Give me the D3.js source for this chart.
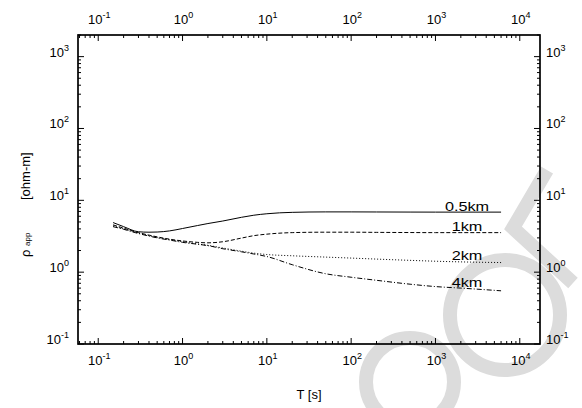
<!DOCTYPE html>
<html>
<head>
<meta charset="utf-8">
<script src="https://cdn.jsdelivr.net/npm/d3@7"></script>
<style>
  body { margin: 0; background: #fff; }
  text { font-family: "Liberation Sans", Arial, sans-serif; }
</style>
</head>
<body>
<div id="chart"></div>
<script>
// apparent resistivity vs period, four depths
var period = [0.15, 0.2, 0.3, 0.4, 0.5, 0.7, 1, 1.5, 2, 3, 5, 7, 10, 20, 50, 100, 200, 500, 1000, 2000, 6000];
var rho05 = [4.9, 4.3, 3.65, 3.6, 3.62, 3.75, 4.05, 4.45, 4.75, 5.15, 5.8, 6.2, 6.5, 6.8, 6.9, 6.9, 6.88, 6.86, 6.85, 6.85, 6.85];
var rho1  = [4.55, 4.1, 3.55, 3.28, 3.1, 2.88, 2.72, 2.6, 2.56, 2.65, 2.98, 3.22, 3.38, 3.55, 3.6, 3.6, 3.58, 3.56, 3.55, 3.55, 3.55];
var rho2  = [4.4, 4.0, 3.5, 3.22, 3.03, 2.83, 2.65, 2.47, 2.36, 2.17, 1.96, 1.84, 1.76, 1.69, 1.62, 1.57, 1.52, 1.46, 1.42, 1.39, 1.36];
var rho4  = [4.3, 3.95, 3.45, 3.18, 3.0, 2.8, 2.6, 2.45, 2.34, 2.12, 1.92, 1.79, 1.65, 1.27, 0.95, 0.85, 0.77, 0.68, 0.63, 0.6, 0.55];
var seriesNames = ['0.5km', '1km', '2km', '4km'];
var dashes = ['none', '4,2', '1,2', '5,2,1,2'];
var xMajor = [0.1, 1, 10, 100, 1000, 10000];
var yMajor = [0.1, 1, 10, 100, 1000];

var w = 582, h = 408;
var margin = {top: 35, right: 42, bottom: 64, left: 78};

var x = d3.scaleLog()
  .domain([Math.pow(10, -1.24), Math.pow(10, 4.24)])
  .range([margin.left, w - margin.right]);
var y = d3.scaleLog()
  .domain([0.1, 2000])
  .range([h - margin.bottom, margin.top]);

var svg = d3.select('#chart').append('svg')
  .attr('width', w)
  .attr('height', h);

// faint watermark
var wm = svg.append('g')
  .attr('fill', 'none')
  .attr('stroke', '#dcdcdc')
  .attr('stroke-width', 14);
wm.append('circle').attr('cx', 410).attr('cy', 382).attr('r', 44);
wm.append('circle').attr('cx', 505).attr('cy', 315).attr('r', 55);
wm.append('path').attr('d', 'M547,170L513,228L573,283');

var x0 = margin.left, x1 = w - margin.right;
var y0 = h - margin.bottom, y1 = margin.top;

var xMinor = x.ticks().filter(d => xMajor.indexOf(d) < 0);
var yMinor = y.ticks().filter(d => yMajor.indexOf(d) < 0);

var ticks = svg.append('g').attr('stroke', '#000').attr('stroke-width', 1);
function tickLines(vals, len) {
  vals.forEach(function(d) {
    var px = x(d);
    if (px >= x0 && px <= x1) {
      ticks.append('line').attr('x1', px).attr('x2', px).attr('y1', y0).attr('y2', y0 - len);
      ticks.append('line').attr('x1', px).attr('x2', px).attr('y1', y1).attr('y2', y1 + len);
    }
  });
}
function tickLinesY(vals, len) {
  vals.forEach(function(d) {
    var py = y(d);
    if (py >= y1 && py <= y0) {
      ticks.append('line').attr('y1', py).attr('y2', py).attr('x1', x0).attr('x2', x0 + len);
      ticks.append('line').attr('y1', py).attr('y2', py).attr('x1', x1).attr('x2', x1 - len);
    }
  });
}
tickLines(xMinor, 3);
tickLines(xMajor, 6);
tickLinesY(yMinor, 3);
tickLinesY(yMajor, 6);

svg.append('rect')
  .attr('x', x0).attr('y', y1)
  .attr('width', x1 - x0).attr('height', y0 - y1)
  .attr('fill', 'none')
  .attr('stroke', '#000')
  .attr('stroke-width', 1.7);

function powLabel(g, d, anchor) {
  var e = Math.round(Math.log10(d));
  var t = g.append('text').attr('font-size', 13).attr('text-anchor', anchor).attr('fill', '#000');
  t.append('tspan').text('10');
  t.append('tspan').attr('font-size', 9).attr('dy', -6).text(e);
  return t;
}

xMajor.forEach(function(d) {
  powLabel(svg, d, 'middle').attr('x', x(d) + 1).attr('y', 24);
  powLabel(svg, d, 'middle').attr('x', x(d) + 1).attr('y', 365);
});
yMajor.forEach(function(d) {
  powLabel(svg, d, 'end').attr('x', 69).attr('y', y(d));
  powLabel(svg, d, 'start').attr('x', 546).attr('y', y(d));
});

svg.append('text')
  .attr('x', (x0 + x1) / 2)
  .attr('y', 399)
  .attr('text-anchor', 'middle')
  .attr('font-size', 13)
  .text('T [s]');

// y title: rho_app ... [ohm-m], reading bottom to top
var yt = svg.append('text')
  .attr('transform', 'translate(30,257) rotate(-90)')
  .attr('font-size', 13);
yt.append('tspan').attr('x', 0).text('\u03c1');
yt.append('tspan').attr('x', 11).attr('font-size', 8).text('app');
yt.append('tspan').attr('x', 57).text('[ohm-m]');

var allRho = [rho05, rho1, rho2, rho4];
var line = d3.line()
  .x(d => x(d[0]))
  .y(d => y(d[1]))
  .curve(d3.curveMonotoneX);

allRho.forEach(function(vals, i) {
  var pts = period.map((p, j) => [p, vals[j]]);
  svg.append('path')
    .attr('d', line(pts))
    .attr('fill', 'none')
    .attr('stroke', '#000')
    .attr('stroke-width', 1)
    .attr('stroke-dasharray', dashes[i]);
  svg.append('text')
    .attr('transform', 'translate(467,' + (y(vals[vals.length - 2]) - 1.5) + ') scale(1.25,1)')
    .attr('text-anchor', 'middle')
    .attr('font-size', 13)
    .text(seriesNames[i]);
});
</script>
</body>
</html>
